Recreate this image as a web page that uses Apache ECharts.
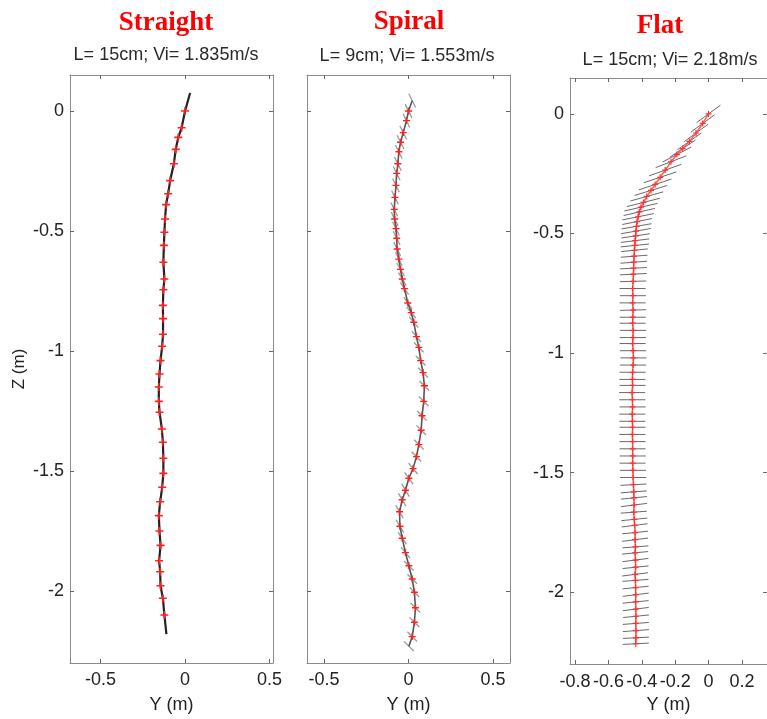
<!DOCTYPE html>
<html><head><meta charset="utf-8">
<script src="https://cdn.jsdelivr.net/npm/echarts@6/dist/echarts.min.js"></script>
<style>html,body{margin:0;padding:0;background:#fff}#c{width:767px;height:719px}</style>
</head><body><div id="c"></div>
<script>
// ---------- data ----------
const panelTitles = ['Straight', 'Spiral', 'Flat'];
const panelSubtitles = ['L= 15cm; Vi= 1.835m/s', 'L= 9cm; Vi= 1.553m/s', 'L= 15cm; Vi= 2.18m/s'];
const zTicks = [0, -0.5, -1, -1.5, -2];
const yTicksNarrow = [-0.5, 0, 0.5];
const yTicksFlat = [-0.8, -0.6, -0.4, -0.2, 0, 0.2];
const xAxisName = 'Y (m)';
const zAxisName = 'Z (m)';

const straightY = [0.03, 0.0, -0.02, -0.04, -0.055, -0.066, -0.088, -0.10, -0.112, -0.118, -0.122, -0.125, -0.128, -0.122, -0.128, -0.131, -0.13, -0.13, -0.135, -0.145, -0.151, -0.155, -0.155, -0.151, -0.137, -0.131, -0.128, -0.128, -0.135, -0.147, -0.155, -0.151, -0.145, -0.153, -0.147, -0.145, -0.131, -0.122, -0.11];
const straightZ = [0.075, 0.0, -0.07, -0.11, -0.16, -0.22, -0.29, -0.345, -0.39, -0.45, -0.505, -0.56, -0.63, -0.70, -0.745, -0.81, -0.865, -0.93, -0.98, -1.04, -1.096, -1.15, -1.21, -1.255, -1.325, -1.38, -1.447, -1.51, -1.568, -1.628, -1.686, -1.75, -1.81, -1.874, -1.92, -1.978, -2.03, -2.10, -2.18];

const spiralY = [0.022, 0.0, -0.012, -0.031, -0.047, -0.057, -0.063, -0.07, -0.074, -0.08, -0.084, -0.082, -0.074, -0.07, -0.067, -0.057, -0.047, -0.037, -0.024, -0.004, 0.016, 0.031, 0.047, 0.061, 0.072, 0.086, 0.094, 0.09, 0.08, 0.075, 0.061, 0.047, 0.027, 0.002, -0.018, -0.037, -0.053, -0.051, -0.037, -0.018, 0.002, 0.022, 0.035, 0.041, 0.035, 0.022, 0.002];
const spiralZ = [0.043, 0, -0.04, -0.09, -0.13, -0.17, -0.22, -0.26, -0.31, -0.36, -0.41, -0.45, -0.49, -0.53, -0.575, -0.617, -0.66, -0.70, -0.74, -0.80, -0.84, -0.88, -0.94, -0.985, -1.04, -1.09, -1.145, -1.21, -1.27, -1.33, -1.39, -1.44, -1.49, -1.53, -1.58, -1.62, -1.67, -1.73, -1.78, -1.84, -1.895, -1.95, -2.005, -2.07, -2.13, -2.19, -2.23];
const spiralSegAngle = [-55, -55, -55, -55, -55, -55, -55, -55, -55, -55, -55, -55, -55, -55, -55, -55, -50, -50, -45, -45, -40, -40, -40, -35, -35, -35, -35, -35, -35, -35, -35, -35, -40, -45, -50, -50, -50, -50, -45, -40, -35, -35, -35, -35, -35, -35, -35];

const flatY = [0.00, -0.035, -0.075, -0.115, -0.155, -0.19, -0.225, -0.26, -0.29, -0.32, -0.345, -0.37, -0.39, -0.405, -0.415, -0.422, -0.428, -0.432, -0.435, -0.437, -0.44, -0.442, -0.444, -0.446, -0.448, -0.449, -0.45,
  -0.452, -0.455, -0.453, -0.455, -0.452, -0.454, -0.455, -0.452, -0.453, -0.455,
  -0.452, -0.45, -0.452, -0.455, -0.456, -0.455, -0.458, -0.456, -0.455, -0.457,
  -0.456, -0.455, -0.456, -0.455, -0.455, -0.454, -0.455, -0.453, -0.452, -0.45,
  -0.448, -0.447, -0.446, -0.448, -0.445, -0.443, -0.44, -0.44, -0.438, -0.44,
  -0.438, -0.437, -0.44, -0.438, -0.437, -0.436, -0.437, -0.436, -0.435, -0.436,
  -0.435, -0.435, -0.436];
const flatZ = [0.00, -0.04, -0.08, -0.115, -0.145, -0.17, -0.20, -0.235, -0.265, -0.295, -0.32, -0.345, -0.37, -0.39, -0.41, -0.43, -0.45, -0.47, -0.49, -0.51, -0.53, -0.55, -0.57, -0.595, -0.62, -0.645, -0.67,
  -0.70, -0.73, -0.76, -0.79, -0.82, -0.85, -0.875, -0.905, -0.935, -0.96,
  -0.99, -1.02, -1.05, -1.08, -1.11, -1.135, -1.165, -1.195, -1.225, -1.255,
  -1.285, -1.31, -1.34, -1.37, -1.40, -1.43, -1.46, -1.49, -1.52, -1.55,
  -1.58, -1.605, -1.635, -1.665, -1.695, -1.72, -1.75, -1.78, -1.81, -1.835,
  -1.865, -1.895, -1.925, -1.95, -1.98, -2.01, -2.04, -2.07, -2.10, -2.13,
  -2.16, -2.19, -2.215];
const flatSegAngle = [27, 27, 27, 26, 25, 20, 15, 14, 13, 13, 12, 11, 10, 9, 9, 8, 8, 7, 7, 6, 5, 4, 4, 3, 3, 2, 2,
  1, 0, 0, 0, 1, 0, 0, 0, 0, 0,
  0, 0, 0, 0, 0, 0, 0, 0, 0, 0,
  0, 0, 0, 0, 0, 0, 0, 0, 0, 2,
  3, 4, 5, 3, 4, 5, 4, 5, 3, 4,
  5, 4, 5, 3, 4, 5, 4, 5, 4, 3,
  3, 2, 2];
const flatSegHalfLen = [0.08, 0.08, 0.08, 0.08, 0.085, 0.09, 0.095, 0.1, 0.1, 0.1, 0.1, 0.1, 0.1, 0.1, 0.095, 0.095, 0.09, 0.09, 0.09, 0.085, 0.085, 0.085, 0.08, 0.08, 0.08, 0.08, 0.08,
  0.078, 0.078, 0.078, 0.078, 0.078, 0.078, 0.078, 0.078, 0.078, 0.078,
  0.078, 0.078, 0.078, 0.078, 0.078, 0.078, 0.078, 0.078, 0.078, 0.078,
  0.078, 0.078, 0.078, 0.078, 0.078, 0.078, 0.078, 0.078, 0.078, 0.078,
  0.078, 0.078, 0.078, 0.078, 0.078, 0.078, 0.078, 0.078, 0.078, 0.078,
  0.078, 0.078, 0.078, 0.078, 0.078, 0.078, 0.078, 0.078, 0.078, 0.078,
  0.078, 0.078, 0.078];
const spiralSegHalfLen = 0.035;

// ---------- chart ----------
const SANS = 'Liberation Sans, Arial, sans-serif';
const SERIF = 'Liberation Serif, Times New Roman, serif';
const CROSS = 'path://M4,0H6V4H10V6H6V10H4V6H0V4H4Z';
const AXIS_COLOR = '#8c8c8c';
const grids = [
  {left: 70, top: 75, width: 203, height: 588},
  {left: 307, top: 75, width: 203, height: 590},
  {left: 570, top: 78, width: 200, height: 592}
];
const xRanges = [[-0.68, 0.52], [-0.6, 0.6], [-0.83, 0.35]];
const xTickSets = [yTicksNarrow, yTicksNarrow, yTicksFlat];
const zRange = [-2.3, 0.15];

const xAxes = [], yAxes = [];
for (let i = 0; i < 3; i++) {
  const base = {
    type: 'value', gridIndex: i, min: xRanges[i][0], max: xRanges[i][1],
    splitLine: {show: false},
    axisLine: {show: true, onZero: false, lineStyle: {color: AXIS_COLOR, width: 1}}
  };
  xAxes.push(Object.assign({}, base, {
    position: 'bottom',
    name: xAxisName, nameLocation: 'middle', nameGap: i === 2 ? 31 : 33,
    nameTextStyle: {color: '#222', fontSize: 18, fontFamily: SANS},
    axisTick: {show: true, inside: true, length: 4, customValues: xTickSets[i], lineStyle: {color: '#666'}},
    axisLabel: {show: true, customValues: xTickSets[i], color: '#222', fontSize: 18, fontFamily: SANS, margin: i === 2 ? 9 : 8}
  }));
  xAxes.push(Object.assign({}, base, {
    position: 'top',
    axisTick: {show: true, inside: true, length: 4, customValues: xTickSets[i], lineStyle: {color: '#666'}},
    axisLabel: {show: false}
  }));
  const ybase = {
    type: 'value', gridIndex: i, min: zRange[0], max: zRange[1],
    splitLine: {show: false},
    axisLine: {show: true, onZero: false, lineStyle: {color: AXIS_COLOR, width: 1}}
  };
  yAxes.push(Object.assign({}, ybase, {
    position: 'left',
    name: i === 0 ? zAxisName : '', nameLocation: 'middle', nameGap: 42,
    nameTextStyle: {color: '#222', fontSize: 17, fontFamily: SANS},
    axisTick: {show: true, inside: true, length: 4, customValues: zTicks, lineStyle: {color: '#666'}},
    axisLabel: {show: i !== 1, customValues: zTicks, color: '#222', fontSize: 18, fontFamily: SANS, margin: 6}
  }));
  yAxes.push(Object.assign({}, ybase, {
    position: 'right',
    axisTick: {show: true, inside: true, length: 4, customValues: zTicks, lineStyle: {color: '#666'}},
    axisLabel: {show: false}
  }));
}

function pairs(a, b) { return a.map((v, k) => [v, b[k]]); }
function segData(y, z, ang, half) {
  return y.map((v, k) => [v, z[k], ang[k], Array.isArray(half) ? half[k] : half]);
}

function segRenderer(color, width) {
  return function (params, api) {
    const yc = api.value(0), zc = api.value(1), ang = api.value(2) * Math.PI / 180, h = api.value(3);
    const dy = h * Math.cos(ang), dz = h * Math.sin(ang);
    const p1 = api.coord([yc - dy, zc - dz]);
    const p2 = api.coord([yc + dy, zc + dz]);
    return {type: 'line', shape: {x1: p1[0], y1: p1[1], x2: p2[0], y2: p2[1]},
      style: {stroke: color, lineWidth: width}, silent: true};
  };
}

function endsHidden(n) {
  return function (v, p) { return (p.dataIndex === 0 || p.dataIndex === n - 1) ? 'none' : CROSS; };
}

const series = [
  {
    type: 'line', xAxisIndex: 0, yAxisIndex: 0, data: pairs(straightY, straightZ),
    symbol: endsHidden(straightY.length), symbolSize: 8, showSymbol: true,
    lineStyle: {color: '#222', width: 2.2}, itemStyle: {color: '#ff2020'}, z: 3
  },
  {
    type: 'custom', xAxisIndex: 2, yAxisIndex: 2, data: segData(spiralY, spiralZ, spiralSegAngle, spiralSegHalfLen),
    renderItem: segRenderer('#9a9a9a', 1.3), z: 2
  },
  {
    type: 'line', xAxisIndex: 2, yAxisIndex: 2, data: pairs(spiralY, spiralZ),
    symbol: endsHidden(spiralY.length), symbolSize: 7, showSymbol: true,
    lineStyle: {color: '#555', width: 1.6}, itemStyle: {color: '#ff2020'}, z: 3
  },
  {
    type: 'custom', xAxisIndex: 4, yAxisIndex: 4, data: segData(flatY, flatZ, flatSegAngle, flatSegHalfLen),
    renderItem: segRenderer('#6a6a6a', 1), z: 2
  },
  {
    type: 'line', xAxisIndex: 4, yAxisIndex: 4, data: pairs(flatY, flatZ),
    symbol: CROSS, symbolSize: 6, showSymbol: true,
    lineStyle: {color: '#ff5a5a', width: 1.5}, itemStyle: {color: '#ff3030'}, z: 3
  }
];

const titleX = [166, 409, 660];
const titleY = [23, 22, 26];
const subX = [166, 407, 670];
const subY = [55, 56, 60];
const graphic = [];
for (let i = 0; i < 3; i++) {
  graphic.push({type: 'text', x: titleX[i], y: titleY[i], style: {
    text: panelTitles[i], fill: '#ff0000', font: 'bold 27px ' + SERIF,
    textAlign: 'center', textVerticalAlign: 'middle', align: 'center', verticalAlign: 'middle'}});
  graphic.push({type: 'text', x: subX[i], y: subY[i], style: {
    text: panelSubtitles[i], fill: '#2a2a2a', font: '18px ' + SANS,
    textAlign: 'center', textVerticalAlign: 'middle', align: 'center', verticalAlign: 'middle'}});
}

const chart = echarts.init(document.getElementById('c'), null, {renderer: 'canvas'});
chart.setOption({
  animation: false,
  backgroundColor: '#ffffff',
  grid: grids,
  xAxis: xAxes,
  yAxis: yAxes,
  series: series,
  graphic: graphic
});
</script></body></html>
